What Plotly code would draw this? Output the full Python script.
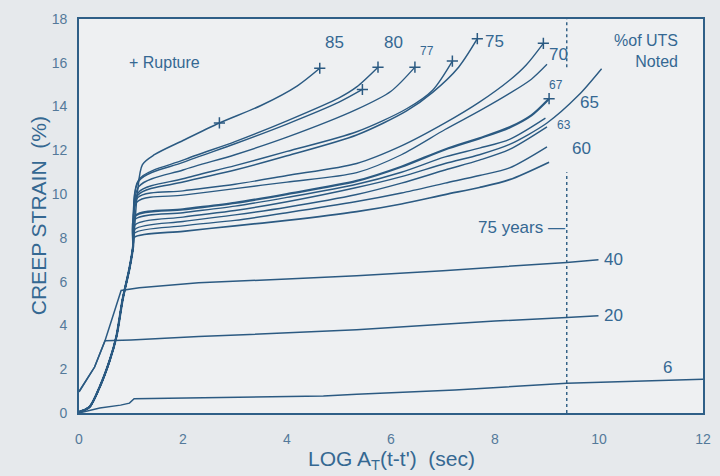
import plotly.graph_objects as go

# ---------------- data ----------------
# common primary-creep rise shared by the high-stress curves
RISE_X = [0.0, 0.2, 0.4, 0.59, 0.72, 0.84, 0.97, 1.04]
RISE_Y = [0.05, 0.27, 1.2, 2.4, 3.5, 5.2, 6.6, 7.6]

C85_X = [1.12, 1.22, 1.45, 2.0, 2.7, 3.5, 4.2, 4.63]
C85_Y = [10.0, 11.35, 11.8, 12.45, 13.25, 14.05, 14.95, 15.75]

C80_X = [1.15, 2.0, 3.0, 4.0, 5.0, 5.34, 5.75]
C80_Y = [10.66, 11.55, 12.4, 13.35, 14.4, 14.9, 15.8]

C80B_X = [1.15, 2.0, 3.0, 4.0, 5.0, 5.45]
C80B_Y = [10.6, 11.45, 12.3, 13.2, 14.2, 14.78]

C77_X = [1.15, 2.0, 3.0, 4.0, 5.34, 6.0, 6.46]
C77_Y = [10.34, 11.1, 11.8, 12.6, 13.87, 14.7, 15.8]

C75B_X = [1.14, 2.0, 3.0, 4.0, 5.34, 6.3, 6.8, 7.18]
C75B_Y = [10.07, 10.7, 11.3, 11.95, 12.85, 13.9, 14.75, 16.08]

C75_X = [1.13, 2.0, 3.0, 4.0, 5.34, 6.3, 6.8, 7.3, 7.66]
C75_Y = [9.95, 10.55, 11.1, 11.75, 12.7, 13.8, 14.65, 15.8, 17.1]

C70_X = [1.13, 2.0, 3.0, 4.0, 5.34, 6.2, 7.04, 7.7, 8.28, 8.6, 8.93]
C70_Y = [9.84, 10.15, 10.45, 10.85, 11.4, 12.2, 13.25, 14.2, 15.2, 15.9, 16.89]

C70B_X = [1.12, 2.0, 3.0, 4.0, 5.34, 6.2, 7.04, 7.7, 8.28, 8.7, 9.0]
C70B_Y = [9.65, 9.95, 10.25, 10.55, 10.98, 11.8, 12.95, 13.8, 14.6, 15.25, 15.93]

C67_X = [1.08, 2.0, 3.0, 4.0, 5.34, 6.2, 7.04, 7.7, 8.28, 8.7, 9.04]
C67_Y = [9.0, 9.3, 9.6, 10.0, 10.6, 11.25, 12.04, 12.55, 13.05, 13.6, 14.36]

C66_X = [1.08, 2.0, 3.0, 4.0, 5.34, 6.2, 7.04, 7.7, 8.28, 8.97]
C66_Y = [8.85, 9.15, 9.45, 9.85, 10.45, 11.0, 11.7, 12.1, 12.5, 13.47]

C65_X = [1.08, 2.0, 3.0, 4.0, 5.34, 6.2, 7.04, 7.7, 8.28, 9.0, 9.6, 10.05]
C65_Y = [8.6, 8.95, 9.25, 9.65, 10.3, 10.8, 11.4, 11.8, 12.27, 13.25, 14.5, 15.73]

C63_X = [1.08, 2.0, 3.0, 4.0, 5.34, 6.2, 7.04, 7.7, 8.28, 9.0]
C63_Y = [8.4, 8.75, 9.05, 9.4, 9.98, 10.5, 11.1, 11.55, 12.04, 13.07]

C60_X = [1.07, 2.0, 3.0, 4.0, 5.34, 6.2, 7.04, 7.7, 8.28, 9.0]
C60_Y = [8.22, 8.55, 8.8, 9.15, 9.66, 10.05, 10.5, 10.85, 11.2, 12.16]

C58_X = [1.06, 2.0, 3.0, 4.0, 5.34, 6.2, 7.04, 7.7, 8.28, 9.04]
C58_Y = [8.02, 8.3, 8.55, 8.8, 9.2, 9.55, 9.98, 10.3, 10.66, 11.46]

C40_X = [0.0, 0.3, 0.5, 0.81, 1.16, 2.3, 4.0, 5.34, 7.0, 8.5, 9.38, 9.99]
C40_Y = [0.97, 2.1, 3.3, 5.6, 5.72, 5.95, 6.12, 6.27, 6.5, 6.72, 6.88, 7.0]

C20_X = [0.0, 0.3, 0.5, 1.0, 2.3, 4.0, 5.34, 7.0, 8.0, 9.38, 9.99]
C20_Y = [0.97, 2.1, 3.3, 3.34, 3.49, 3.68, 3.8, 4.05, 4.2, 4.36, 4.44]

C6_X = [0.0, 0.4, 0.8, 0.97, 1.06, 2.93, 4.7, 5.34, 7.23, 9.38, 12.0]
C6_Y = [0.0, 0.23, 0.36, 0.45, 0.65, 0.72, 0.78, 0.86, 1.05, 1.36, 1.54]

RUPTURE_X = [2.7, 4.63, 5.45, 5.75, 6.46, 7.18, 7.66, 8.93, 9.04]
RUPTURE_Y = [13.25, 15.75, 14.78, 15.8, 15.8, 16.08, 17.1, 16.89, 14.36]

LIFE_X = 9.38  # 75 years

BIG_LABELS = ["85", "80", "75", "70", "65", "60", "40", "20", "6"]
BIG_LABEL_X = [4.92, 6.04, 7.99, 9.23, 9.82, 9.67, 10.27, 10.27, 11.32]
BIG_LABEL_Y = [16.93, 16.93, 16.95, 16.38, 14.2, 12.07, 7.0, 4.44, 2.06]

SMALL_LABELS = ["77", "67", "63"]
SMALL_LABEL_X = [6.70, 9.18, 9.33]
SMALL_LABEL_Y = [16.54, 14.97, 13.18]

X_TICKS = [0, 2, 4, 6, 8, 10, 12]
Y_TICKS = [0, 2, 4, 6, 8, 10, 12, 14, 16, 18]

# ---------------- style ----------------
LINE = "#2b5a82"
TEXT = "#356892"
TICK = "#54799a"
PAPER = "#e6e9ec"
PLOT = "#eef0f2"
FONT = "Liberation Sans, Arial, sans-serif"

fig = go.Figure()

rupture_curves = [
    (C85_X, C85_Y, 1.5), (C80_X, C80_Y, 1.4), (C80B_X, C80B_Y, 1.4),
    (C77_X, C77_Y, 1.4), (C75B_X, C75B_Y, 1.4), (C75_X, C75_Y, 1.5),
    (C70_X, C70_Y, 1.4), (C70B_X, C70B_Y, 1.3), (C67_X, C67_Y, 2.3),
    (C66_X, C66_Y, 1.4), (C65_X, C65_Y, 1.4), (C63_X, C63_Y, 1.4),
    (C60_X, C60_Y, 1.4), (C58_X, C58_Y, 1.7),
]
for cx, cy, w in rupture_curves:
    fig.add_trace(go.Scatter(
        x=RISE_X + cx, y=RISE_Y + cy, mode="lines",
        line=dict(color=LINE, width=w, shape="spline", smoothing=0.8),
        hoverinfo="skip", showlegend=False))

for cx, cy in [(C40_X, C40_Y), (C20_X, C20_Y), (C6_X, C6_Y)]:
    fig.add_trace(go.Scatter(
        x=cx, y=cy, mode="lines",
        line=dict(color=LINE, width=1.5, shape="linear"),
        hoverinfo="skip", showlegend=False))

fig.add_trace(go.Scatter(
    x=RUPTURE_X, y=RUPTURE_Y, mode="markers",
    marker=dict(symbol="cross-thin", size=8, line=dict(color=LINE, width=1.5)),
    hoverinfo="skip", showlegend=False))

# 75-year dotted line (interrupted behind the labels)
fig.add_shape(type="line", x0=LIFE_X, x1=LIFE_X, y0=0, y1=11.0,
              line=dict(color=LINE, width=1.4, dash="dot"))
fig.add_shape(type="line", x0=LIFE_X, x1=LIFE_X, y0=15.8, y1=18,
              line=dict(color=LINE, width=1.4, dash="dot"))

for t, x, y in zip(BIG_LABELS, BIG_LABEL_X, BIG_LABEL_Y):
    fig.add_annotation(x=x, y=y, text=t, showarrow=False,
                       font=dict(family=FONT, size=17, color=TEXT))
for t, x, y in zip(SMALL_LABELS, SMALL_LABEL_X, SMALL_LABEL_Y):
    fig.add_annotation(x=x, y=y, text=t, showarrow=False,
                       font=dict(family=FONT, size=12, color=TEXT))

fig.add_annotation(x=LIFE_X, y=8.47, text="75 years —", showarrow=False,
                   xanchor="right", font=dict(family=FONT, size=17, color=TEXT))
fig.add_annotation(x=0.93, y=16.0, text="+ Rupture", showarrow=False,
                   xanchor="left", font=dict(family=FONT, size=16, color=TEXT))
fig.add_annotation(x=11.56, y=16.54, text="%of UTS<br>Noted", showarrow=False,
                   xanchor="right", align="right",
                   font=dict(family=FONT, size=16, color=TEXT))

# axis titles
fig.add_annotation(xref="paper", yref="paper", x=0.5, y=-0.119,
                   text="LOG A<sub>T</sub>(t-t')  (sec)", showarrow=False,
                   yanchor="middle", font=dict(family=FONT, size=21, color=TEXT))
fig.add_annotation(xref="paper", yref="paper", x=-0.087, y=0.5,
                   text="CREEP STRAIN  (%)", showarrow=False, textangle=-90,
                   font=dict(family=FONT, size=21, color=TEXT))

axis_common = dict(showgrid=False, zeroline=False, showline=True, mirror=True,
                   linecolor="#2f5f87", linewidth=1.6, ticks="",
                   tickfont=dict(family=FONT, size=14, color=TICK))
fig.update_xaxes(range=[0, 12], tickvals=X_TICKS, ticklabelstandoff=12, **axis_common)
fig.update_yaxes(range=[0, 18], tickvals=Y_TICKS, ticklabelstandoff=7, **axis_common)

fig.update_layout(width=720, height=476,
                  margin=dict(l=79, r=9, t=19, b=63),
                  paper_bgcolor=PAPER, plot_bgcolor=PLOT,
                  font=dict(family=FONT, color=TEXT))

fig.write_html("out.html")
